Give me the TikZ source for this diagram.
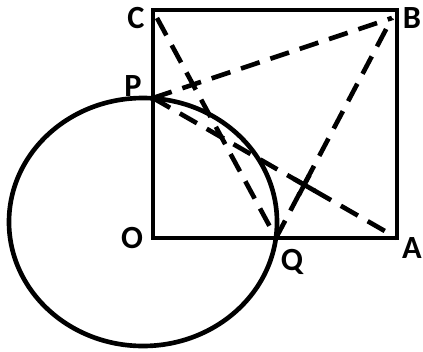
\documentclass[tikz,border=0pt]{standalone}
\usepackage{fontspec}
\setmainfont{Carlito}
\usetikzlibrary{calc}

\begin{document}
\begin{tikzpicture}[x=0.025cm, y=-0.025cm, line width=3.3pt,
    every node/.style={font=\bfseries\fontsize{23}{23}\selectfont, inner sep=0pt},
    dashline/.style={dash pattern=on 14pt off 8pt}]

        \useasboundingbox (0,0) rectangle (423,351);

        % corners of the square and the two points
        \coordinate (O) at (153,238);
        \coordinate (A) at (397,238);
        \coordinate (B) at (397,10);
        \coordinate (C) at (153,10);
        \coordinate (P) at (153,98);
        \coordinate (Q) at (276,238);
        \coordinate (M) at (143,222); % centre of the circle

        \draw (O) -- (A) -- (B) -- (C) -- cycle;
        \draw (M) ellipse [x radius=134, y radius=124];

        \draw[dashline] (P) -- ($(B)+(-5,8)$);
        \draw[dashline] (P) -- (A);
        \draw[dashline] ($(C)+(4,8)$) -- (Q);
        \draw[dashline] (Q) -- ($(B)+(-5,8)$);

        % cross where PA meets QB
        \coordinate (X) at (intersection of P--A and Q--B);
        \draw ($(X)!0.3cm!(P)$) -- ($(X)!0.3cm!(A)$);
        \draw ($(X)!0.28cm!(Q)$) -- ($(X)!0.28cm!(B)$);

        \node (lC) at (136,18) {C};
        \node (lB) at (412,18) {B};
        \node (lP) at (133,86) {P};
        \node (lO) at (132,238) {O};
        \node (lQ) at (292,262) {Q};
        \node (lA) at (412,248) {A};

\end{tikzpicture}
\end{document}
